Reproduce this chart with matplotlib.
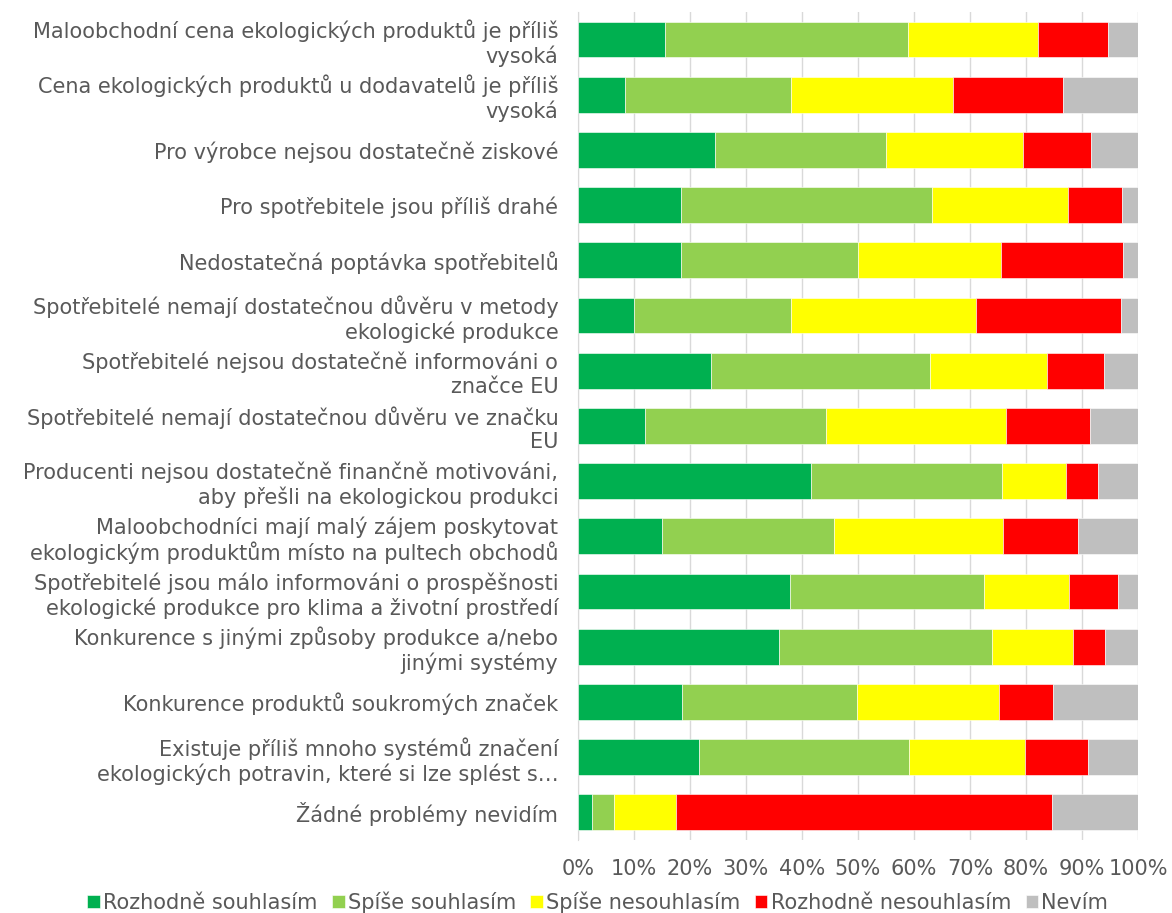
import numpy as np
import matplotlib
matplotlib.use("Agg")
import matplotlib.pyplot as plt

categories = [
    "Maloobchodní cena ekologických produktů je příliš\nvysoká",
    "Cena ekologických produktů u dodavatelů je příliš\nvysoká",
    "Pro výrobce nejsou dostatečně ziskové",
    "Pro spotřebitele jsou příliš drahé",
    "Nedostatečná poptávka spotřebitelů",
    "Spotřebitelé nemají dostatečnou důvěru v metody\nekologické produkce",
    "Spotřebitelé nejsou dostatečně informováni o\nznačce EU",
    "Spotřebitelé nemají dostatečnou důvěru ve značku\nEU",
    "Producenti nejsou dostatečně finančně motivováni,\naby přešli na ekologickou produkci",
    "Maloobchodníci mají malý zájem poskytovat\nekologickým produktům místo na pultech obchodů",
    "Spotřebitelé jsou málo informováni o prospěšnosti\nekologické produkce pro klima a životní prostředí",
    "Konkurence s jinými způsoby produkce a/nebo\njinými systémy",
    "Konkurence produktů soukromých značek",
    "Existuje příliš mnoho systémů značení\nekologických potravin, které si lze splést s…",
    "Žádné problémy nevidím",
]

series_names = ["Rozhodně souhlasím", "Spíše souhlasím", "Spíše nesouhlasím",
                "Rozhodně nesouhlasím", "Nevím"]

rozhodne_souhlasim = [15.5, 8.5, 24.5, 18.4, 18.4, 10.0, 23.7, 12.0, 41.6, 15.1, 37.8, 35.9, 18.6, 21.6, 2.5]
spise_souhlasim = [43.5, 29.6, 30.6, 44.9, 31.6, 28.0, 39.2, 32.3, 34.1, 30.6, 34.7, 38.0, 31.2, 37.5, 3.9]
spise_nesouhlasim = [23.2, 28.8, 24.3, 24.2, 25.6, 33.1, 20.9, 32.2, 11.4, 30.2, 15.1, 14.5, 25.3, 20.8, 11.2]
rozhodne_nesouhlasim = [12.4, 19.7, 12.2, 9.6, 21.8, 25.9, 10.1, 15.0, 5.8, 13.4, 8.9, 5.7, 9.8, 11.1, 67.1]
nevim = [5.4, 13.4, 8.4, 2.9, 2.6, 3.0, 6.1, 8.5, 7.1, 10.7, 3.5, 5.9, 15.1, 9.0, 15.3]

colors = ["#00B050", "#92D050", "#FFFF00", "#FF0000", "#BFBFBF"]
text_color = "#595959"

plt.rcParams['font.family'] = ['DejaVu Sans']

fig = plt.figure(figsize=(11.72, 9.13), dpi=100)
ax = fig.add_axes([0.493, 0.080, 0.478, 0.907])

data = [rozhodne_souhlasim, spise_souhlasim, spise_nesouhlasim, rozhodne_nesouhlasim, nevim]
y = np.arange(len(categories))
left = np.zeros(len(categories))
for name, vals, col in zip(series_names, data, colors):
    vals = np.array(vals)
    ax.barh(y, vals, left=left, height=0.65, color=col, label=name,
            edgecolor="white", linewidth=0.4, zorder=3)
    left += vals

ax.set_xlim(0, 100)
ax.set_ylim(len(categories) - 0.5, -0.5)
ax.set_xticks(np.arange(0, 101, 10))
ax.set_xticklabels([f"{v}%" for v in range(0, 101, 10)])
ax.set_yticks(y)
ax.set_yticklabels(categories)
for lbl in ax.get_yticklabels():
    lbl.set_horizontalalignment("right")
    lbl.set_multialignment("right")

ax.tick_params(axis="both", length=0, colors=text_color, labelsize=15)
ax.tick_params(axis="x", pad=14)
ax.tick_params(axis="y", pad=14)
ax.grid(axis="x", color="#D9D9D9", linewidth=1, zorder=0)
for side in ["top", "right", "bottom"]:
    ax.spines[side].set_visible(False)
ax.spines["left"].set_color("#D9D9D9")

leg = fig.legend(loc="lower center", bbox_to_anchor=(0.51, -0.02), ncol=5, frameon=False,
                 fontsize=15, handlelength=0.6, handleheight=0.6, handletextpad=0.15,
                 columnspacing=0.7, labelcolor=text_color)

fig.savefig("out.png", dpi=100)
